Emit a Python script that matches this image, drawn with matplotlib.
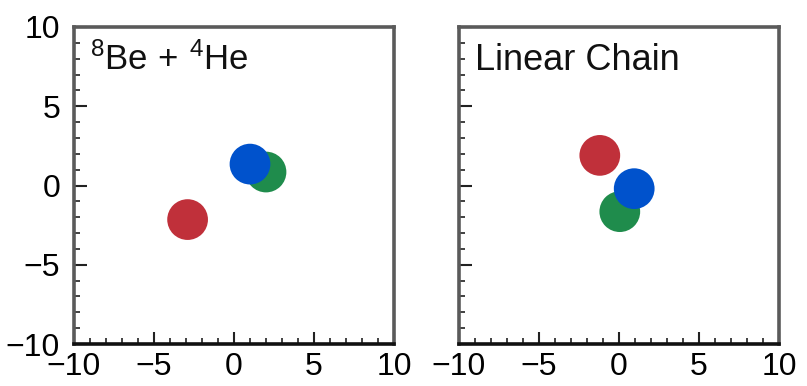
import matplotlib
matplotlib.use("Agg")
import matplotlib.pyplot as plt
from matplotlib.ticker import MultipleLocator

plt.rcParams['font.family'] = ['Liberation Sans', 'DejaVu Sans']
plt.rcParams['mathtext.fontset'] = 'custom'
plt.rcParams['mathtext.rm'] = 'Liberation Sans'
plt.rcParams['mathtext.it'] = 'Liberation Sans'

panel_titles = [r'$^{8}$Be$\,+\,^{4}$He', 'Linear Chain']
title_sizes = [25, 26]
# particle order: green, blue, red  (blue drawn over green)
colors = ['#1f8c4c', '#0052cc', '#c0303a']
x_vals = [[2.0, 1.0, -2.9], [0.05, 0.95, -1.2]]
y_vals = [[0.85, 1.35, -2.15], [-1.65, -0.2, 1.9]]
ticks = [-10, -5, 0, 5, 10]
tick_labels = ['\u221210', '\u22125', '0', '5', '10']

fig = plt.figure(figsize=(8.07, 3.86), dpi=100)
lefts = [74/807, 459/807]
for i in range(2):
    ax = fig.add_axes([lefts[i], 42/386, 320/807, 317/386])
    ax.set_xlim(-10, 10)
    ax.set_ylim(-10, 10)
    ax.scatter(x_vals[i], y_vals[i], s=860, c=colors, linewidths=0, zorder=3)
    ax.set_xticks(ticks)
    ax.set_xticklabels(tick_labels)
    ax.set_yticks(ticks)
    if i == 0:
        ax.set_yticklabels(tick_labels)
    else:
        ax.set_yticklabels([])
    ax.xaxis.set_minor_locator(MultipleLocator(1))
    ax.yaxis.set_minor_locator(MultipleLocator(1))
    ax.tick_params(which='major', direction='in', length=9, width=1.5,
                   labelsize=23, pad=6, top=False, right=False, color='#222222')
    ax.tick_params(which='minor', direction='in', length=4, width=1.3,
                   top=False, right=False, color='#333333')
    ax.tick_params(axis='y', pad=10)
    for side in ['top', 'left', 'right']:
        ax.spines[side].set_color('#5a5a5a')
        ax.spines[side].set_linewidth(2.6)
    ax.spines['bottom'].set_color('#111111')
    ax.spines['bottom'].set_linewidth(2.6)
    ax.text(-9.0, 7.3, panel_titles[i], fontsize=title_sizes[i], va='baseline',
            ha='left', color='#111111')

fig.savefig('out.png', dpi=100)
